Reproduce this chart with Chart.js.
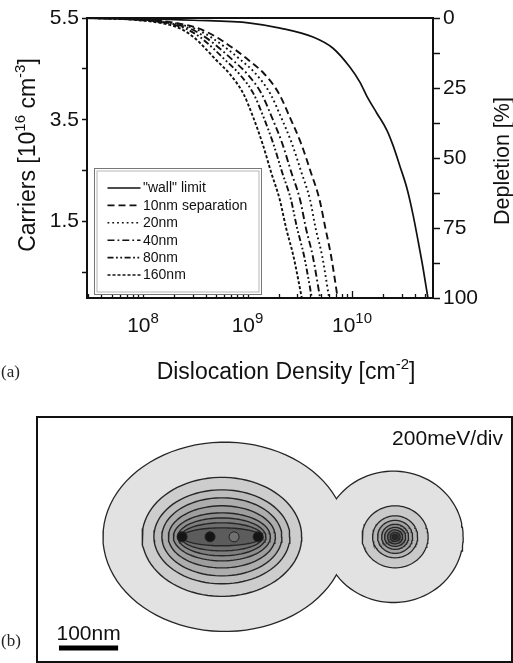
<!DOCTYPE html>
<html><head><meta charset="utf-8">
<script src="https://cdn.jsdelivr.net/npm/chart.js@4"></script>
<style>
html,body{margin:0;padding:0;background:#fff;width:513px;height:663px;overflow:hidden;}
#ca{position:absolute;left:0;top:0;}
#boxb{position:absolute;left:36px;top:416px;width:473px;height:243px;border:2px solid #111;}
#cb{position:absolute;left:38px;top:418px;}
.lab{position:absolute;font-family:"Liberation Serif","Times New Roman",serif;font-size:17px;line-height:20px;color:#222;}
</style></head>
<body>
<canvas id="ca" width="513" height="400"></canvas>
<div id="boxb"></div>
<canvas id="cb" width="473" height="243"></canvas>
<div class="lab" style="left:1px;top:362px">(a)</div>
<div class="lab" style="left:1px;top:631px">(b)</div>
<script>
// ---------------- Panel (a) data ----------------
const seriesNames = ['"wall" limit', '10nm separation', '20nm', '40nm', '80nm', '160nm'];
const tickExponents = [8, 9, 10];
const leftTickValues = [0.5, 1.5, 2.5, 3.5, 4.5, 5.5];
const leftTickLabels = ['', '1.5', '', '3.5', '', '5.5'];
const rightTickValues = [0, 12.5, 25, 37.5, 50, 62.5, 75, 87.5, 100];
const rightTickLabels = ['0', '', '25', '', '50', '', '75', '', '100'];

const wallDensity = [3.0e7, 1e8, 3e8, 1.06e9, 2.05e9, 4.24e9, 6.58e9, 9.57e9, 1.19e10, 1.39e10, 1.73e10, 2.16e10, 2.47e10, 2.88e10, 3.36e10, 3.84e10, 4.29e10, 4.78e10, 5.33e10];
const wallDepletion = [0.1, 0.3, 0.8, 1.8, 3.6, 6.8, 10.8, 17.6, 22.9, 28.0, 34.0, 40.1, 45.5, 53.0, 60.9, 70.3, 79.6, 89.2, 100];

const depletionLevels = [0, 0.5, 2, 4, 7, 11, 15, 20, 27, 35, 45, 55, 65, 75, 85, 100];
const density10nm  = [3.02e7, 1.0e8, 2.24e8, 3.55e8, 5.13e8, 7.41e8, 1.02e9, 1.45e9, 2.0e9, 2.51e9, 3.27e9, 4.03e9, 4.90e9, 5.56e9, 6.31e9, 7.29e9];
const density20nm  = [3.02e7, 9.2e7, 2.06e8, 3.21e8, 4.54e8, 6.38e8, 8.63e8, 1.205e9, 1.65e9, 2.07e9, 2.67e9, 3.27e9, 3.97e9, 4.48e9, 5.18e9, 6.04e9];
const density40nm  = [3.02e7, 8.43e7, 1.89e8, 2.90e8, 4.00e8, 5.47e8, 7.21e8, 9.95e8, 1.36e9, 1.69e9, 2.16e9, 2.62e9, 3.19e9, 3.62e9, 4.21e9, 4.95e9];
const density80nm  = [3.02e7, 7.80e7, 1.75e8, 2.63e8, 3.56e8, 4.74e8, 6.12e8, 8.36e8, 1.14e9, 1.41e9, 1.77e9, 2.14e9, 2.61e9, 2.98e9, 3.48e9, 4.13e9];
const density160nm = [3.02e7, 7.08e7, 1.585e8, 2.34e8, 3.09e8, 3.98e8, 5.01e8, 6.76e8, 9.12e8, 1.122e9, 1.396e9, 1.679e9, 2.04e9, 2.34e9, 2.75e9, 3.31e9];

const xMin = 2.91e7, xMax = 5.96e10;

// styles (kept apart from data)
const seriesDash = [[], [7, 4], [1.8, 3], [7, 3, 1.8, 3], [6, 2.5, 1.8, 2.5, 1.8, 2.5], [3, 2]];
const FONT = '"Liberation Sans", Arial, sans-serif';
const INK = '#111';

const seriesX = [wallDensity, density10nm, density20nm, density40nm, density80nm, density160nm];
const seriesY = [wallDepletion, depletionLevels, depletionLevels, depletionLevels, depletionLevels, depletionLevels];

function drawRich(ctx, parts, x, y, size, align, supRatio) {
  const sup = Math.round(size * (supRatio || 0.64));
  const widths = parts.map(p => { ctx.font = (p[1] ? sup : size) + 'px ' + FONT; return ctx.measureText(p[0]).width; });
  const total = widths.reduce((a, b) => a + b, 0);
  let cx = align === 'center' ? x - total / 2 : (align === 'right' ? x - total : x);
  ctx.textAlign = 'left'; ctx.textBaseline = 'alphabetic';
  parts.forEach((p, i) => {
    ctx.font = (p[1] ? sup : size) + 'px ' + FONT;
    ctx.fillText(p[0], cx, p[1] ? y - size * 0.42 : y);
    cx += widths[i];
  });
}

const decorA = {
  id: 'decorA',
  afterDraw(chart) {
    const ctx = chart.ctx, ca = chart.chartArea, xs = chart.scales.x;
    ctx.save();
    ctx.strokeStyle = INK; ctx.fillStyle = INK;
    // top frame
    ctx.lineWidth = 2;
    ctx.beginPath(); ctx.moveTo(ca.left - 1, ca.top); ctx.lineTo(ca.right + 1, ca.top); ctx.stroke();
    // inward log ticks on x axis
    ctx.lineWidth = 1.3;
    for (let e = 7; e <= 10; e++) {
      for (let m = 1; m <= 9; m++) {
        const v = m * Math.pow(10, e);
        if (v < xMin || v > xMax) continue;
        const px = Math.round(xs.getPixelForValue(v)) + 0.5;
        const len = m === 1 ? 7 : 4;
        ctx.beginPath(); ctx.moveTo(px, ca.bottom); ctx.lineTo(px, ca.bottom - len); ctx.stroke();
      }
    }
    // x tick labels with superscripts
    tickExponents.forEach(e => {
      const px = xs.getPixelForValue(Math.pow(10, e));
      drawRich(ctx, [['10', 0], [String(e), 1]], px, ca.bottom + 34, 21, 'center', 0.72);
    });
    // axis titles
    drawRich(ctx, [['Dislocation Density [cm', 0], ['-2', 1], [']', 0]], 286, 379, 23, 'center');
    ctx.save(); ctx.translate(35, 155); ctx.rotate(-Math.PI / 2);
    drawRich(ctx, [['Carriers [10', 0], ['16', 1], [' cm', 0], ['-3', 1], [']', 0]], 0, 0, 23, 'center');
    ctx.restore();
    ctx.save(); ctx.translate(509, 161); ctx.rotate(-Math.PI / 2);
    drawRich(ctx, [['Depletion [%]', 0]], 0, 0, 21.5, 'center');
    ctx.restore();
    // legend
    const lx = ca.left + 7.5, ly = 168.5, lw = 167, lh = 126;
    ctx.fillStyle = '#fff'; ctx.fillRect(lx, ly, lw, lh);
    ctx.lineWidth = 1; ctx.strokeStyle = '#777'; ctx.strokeRect(lx, ly, lw, lh);
    ctx.strokeStyle = '#b5b5b5'; ctx.strokeRect(lx + 2.5, ly + 2.5, lw - 5, lh - 5);
    chart.data.datasets.forEach((ds, i) => {
      const y = ly + 19.5 + i * 17.4;
      ctx.strokeStyle = INK; ctx.lineWidth = 1.6; ctx.setLineDash(ds.borderDash || []);
      ctx.beginPath(); ctx.moveTo(lx + 13, y); ctx.lineTo(lx + 46, y); ctx.stroke();
      ctx.setLineDash([]);
      ctx.fillStyle = INK; ctx.font = '14px ' + FONT; ctx.textAlign = 'left'; ctx.textBaseline = 'middle';
      ctx.fillText(ds.label, lx + 48.5, y + 0.5);
    });
    ctx.restore();
  }
};

new Chart(document.getElementById('ca'), {
  type: 'scatter',
  data: {
    datasets: seriesNames.map((name, i) => ({
      label: name,
      data: seriesX[i].map((x, j) => ({ x: x, y: seriesY[i][j] })),
      xAxisID: 'x', yAxisID: 'yR',
      showLine: true, fill: false, pointRadius: 0, pointHoverRadius: 0,
      borderColor: INK, borderWidth: i === 0 ? 1.7 : 1.9,
      borderDash: seriesDash[i], cubicInterpolationMode: 'monotone', clip: 3
    }))
  },
  options: {
    responsive: false, animation: false, devicePixelRatio: 1,
    layout: { padding: { top: 18, left: 0, right: 0, bottom: 0 }, autoPadding: false },
    plugins: { legend: { display: false }, tooltip: { enabled: false } },
    scales: {
      x: {
        type: 'logarithmic', min: xMin, max: xMax, position: 'bottom',
        grid: { display: false }, ticks: { display: false },
        border: { display: true, width: 2, color: INK },
        afterFit: s => { s.height = 102; }
      },
      yL: {
        type: 'linear', position: 'left', min: 0, max: 5.5,
        afterBuildTicks: s => { s.ticks = leftTickValues.map(v => ({ value: v })); },
        ticks: { autoSkip: false, callback: (v, i) => leftTickLabels[i], font: { family: FONT, size: 21 }, color: INK, padding: 3 },
        grid: { display: true, drawOnChartArea: false, drawTicks: true, tickLength: 5, tickWidth: 1.5, tickColor: INK },
        border: { display: true, width: 2, color: INK },
        afterFit: s => { s.width = 87; }
      },
      yR: {
        type: 'linear', position: 'right', min: 0, max: 100, reverse: true,
        afterBuildTicks: s => { s.ticks = rightTickValues.map(v => ({ value: v })); },
        ticks: { autoSkip: false, callback: (v, i) => rightTickLabels[i], font: { family: FONT, size: 21 }, color: INK, padding: 3 },
        grid: { display: true, drawOnChartArea: false, drawTicks: true, tickLength: 7, tickWidth: 1.5, tickColor: INK },
        border: { display: true, width: 2, color: INK },
        afterFit: s => { s.width = 80; }
      }
    }
  },
  plugins: [decorA]
});

// ---------------- Panel (b) data (nm) ----------------
const outerCx = [316, 601], outerCy = [210, 210], outerRx = [205, 117], outerRy = [159, 110];
const bigCx = 311, bigCy = 210;
const bigRx = [135, 115, 101.5, 90.5, 82, 74.5, 69.4, 67.7];
const bigRy = [100.7, 79.5, 66, 52.5, 40.6, 32, 23.7, 15.2];
const smallCx = 604, smallCy = 210;
const smallRx = [55.8, 38.1, 29.6, 22.8, 17.8, 12.7, 8.5, 5.1];
const smallRy = [52.5, 35.5, 27.9, 21.2, 16.1, 11.8, 7.6, 4.2];
const coreX = [243.7, 291, 331.6, 372.3];
const coreY = [210, 210, 210, 210];
const scaleBarX = [35.5, 135.5], scaleBarY = [22, 22];

const outerFill = '#e2e2e2';
const bigFill = ['#cdcdcd', '#bdbdbd', '#adadad', '#9e9e9e', '#8e8e8e', '#7e7e7e', '#6e6e6e', '#5c5c5c'];
const smallFill = ['#c9c9c9', '#b6b6b6', '#a3a3a3', '#909090', '#7d7d7d', '#686868', '#4e4e4e', '#282828'];
const coreFill = ['#151515', '#151515', '#707070', '#151515'];
const LINE = '#262626';

function ellipse(cx, cy, rx, ry) {
  const pts = [];
  for (let k = 0; k <= 90; k++) {
    const t = 2 * Math.PI * k / 90;
    pts.push({ x: cx + rx * Math.cos(t), y: cy + ry * Math.sin(t) });
  }
  return pts;
}
const dsB = [];
function shape(data, fillC, lineW) {
  dsB.push({ data: data, showLine: true, pointRadius: 0, fill: 'shape', backgroundColor: fillC,
    borderColor: lineW ? LINE : 'rgba(0,0,0,0)', borderWidth: lineW, tension: 0 });
}
// outer merged contour: stroked ellipses, then fills cover the inner stroke parts
for (let i = 0; i < 2; i++) shape(ellipse(outerCx[i], outerCy[i], outerRx[i], outerRy[i]), outerFill, 2.6);
for (let i = 0; i < 2; i++) shape(ellipse(outerCx[i], outerCy[i], outerRx[i], outerRy[i]), outerFill, 0);
bigRx.forEach((rx, i) => shape(ellipse(bigCx, bigCy, rx, bigRy[i]), bigFill[i], 1.4));
smallRx.forEach((rx, i) => shape(ellipse(smallCx, smallCy, rx, smallRy[i]), smallFill[i], 1.3));
dsB.push({ data: coreX.map((x, i) => ({ x: x, y: coreY[i] })), showLine: false, pointRadius: 5,
  pointBackgroundColor: coreFill, pointBorderColor: '#222', pointBorderWidth: 1 });
dsB.push({ data: scaleBarX.map((x, i) => ({ x: x, y: scaleBarY[i] })), showLine: true, pointRadius: 0,
  borderColor: '#000', borderWidth: 5, borderCapStyle: 'butt', fill: false });
dsB.forEach((d, i) => { d.order = -i; });

const decorB = {
  id: 'decorB',
  afterDraw(chart) {
    const ctx = chart.ctx, xs = chart.scales.x, ys = chart.scales.y;
    ctx.save();
    ctx.fillStyle = INK; ctx.font = '21px ' + FONT; ctx.textBaseline = 'alphabetic';
    ctx.textAlign = 'right';
    ctx.fillText('200meV/div', chart.chartArea.right - 8, 27);
    ctx.textAlign = 'center';
    ctx.fillText('100nm', xs.getPixelForValue((scaleBarX[0] + scaleBarX[1]) / 2), ys.getPixelForValue(scaleBarY[0]) - 8);
    ctx.restore();
  }
};

new Chart(document.getElementById('cb'), {
  type: 'scatter',
  data: { datasets: dsB },
  options: {
    responsive: false, animation: false, devicePixelRatio: 1,
    layout: { padding: 0, autoPadding: false },
    plugins: { legend: { display: false }, tooltip: { enabled: false } },
    scales: {
      x: { type: 'linear', min: 0, max: 800, display: false },
      y: { type: 'linear', min: 0, max: 411, display: false }
    }
  },
  plugins: [decorB]
});
</script>
</body></html>
